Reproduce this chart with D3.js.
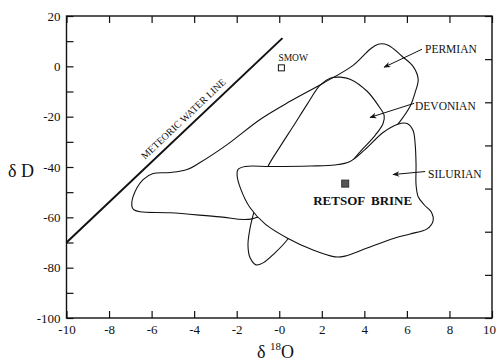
<!DOCTYPE html>
<html>
<head>
<meta charset="utf-8">
<script src="https://cdn.jsdelivr.net/npm/d3@7"></script>
<style>
  body { margin: 0; background: #fff; }
  text { font-family: "Liberation Serif", "DejaVu Serif", serif; fill: #111; }
</style>
</head>
<body>
<script>
var svg_width = 496, svg_height = 362;

// axis ticks
var x_ticks = [-10, -8, -6, -4, -2, 0, 2, 4, 6, 8, 10];
var y_ticks = [-100, -90, -80, -70, -60, -50, -40, -30, -20, -10, 0, 10, 20];
var y_labels = [-100, -80, -60, -40, -20, 0, 20];
var right_ticks = [0, 1, 2, 3, 4, 5, 6, 7];

// fields, as [d18O, dD]
var permian = [
  [-6.92, -55.8], [-6.87, -51.8], [-6.40, -45.0], [-5.93, -42.6], [-5.13, -42.2],
  [-4.33, -41.0], [-3.72, -38.2], [-2.45, -31.1], [-0.90, -21.1], [0.51, -13.9],
  [2.06, -6.7], [3.47, 0.4], [4.27, 6.8], [4.65, 8.8], [5.12, 8.4], [5.77, 4.0],
  [6.29, 0.0], [6.53, -5.1], [6.39, -10.3], [6.15, -15.9], [5.68, -21.9],
  [5.07, -27.9], [4.27, -34.3], [3.23, -39.4], [0.98, -51.0], [-1.28, -60.6],
  [-2.78, -59.8], [-5.13, -58.2], [-6.54, -57.8], [-6.83, -57.0]
];
var devonian = [
  [2.86, -4.3], [3.33, -5.1], [4.13, -9.9], [4.65, -15.5], [4.93, -19.5],
  [4.88, -22.7], [4.50, -27.5], [3.89, -33.1], [3.33, -38.6], [1.45, -55.0],
  [0.37, -69.0], [-0.20, -74.1], [-0.76, -78.1], [-1.09, -78.9], [-1.37, -76.1],
  [-1.47, -71.0], [-1.37, -64.2], [-1.23, -59.1], [-0.81, -47.0], [-0.53, -39.8],
  [0.04, -31.9], [0.65, -23.9], [1.31, -15.1], [1.92, -7.5], [2.39, -4.7]
];
var silurian = [
  [-1.94, -41.0], [-1.61, -39.8], [-0.43, -39.8], [1.45, -39.6], [2.62, -39.2],
  [3.33, -37.8], [4.03, -33.1], [4.88, -26.3], [5.54, -23.1], [6.01, -22.7],
  [6.29, -25.5], [6.39, -31.1], [6.43, -39.0], [6.43, -47.0], [6.53, -51.8],
  [6.81, -55.0], [7.14, -57.8], [7.23, -61.4], [6.95, -64.6], [6.15, -66.6],
  [5.44, -68.2], [4.13, -72.2], [3.09, -75.4], [2.62, -75.7], [1.59, -73.0],
  [0.37, -68.2], [-0.67, -62.6], [-1.37, -56.2], [-1.80, -49.0], [-1.98, -43.4]
];

// meteoric water line dD = 8 d18O + 10
var mwl_x = [-10, 0.15];
var smow = [0.1, -0.6];
var retsof = [3.1, -46.6];

var x = d3.scaleLinear().domain([-10, 10]).range([66.5, 492]);
var y = d3.scaleLinear().domain([-100, 20]).range([318, 16]);
var y2 = d3.scaleLinear().domain([0, 7]).range([318, 16]);

var svg = d3.select("body").append("svg")
  .attr("width", svg_width).attr("height", svg_height);

svg.append("defs").append("marker")
  .attr("id", "head").attr("viewBox", "0 0 10 10")
  .attr("refX", 9).attr("refY", 5)
  .attr("markerWidth", 9).attr("markerHeight", 7)
  .attr("markerUnits", "userSpaceOnUse")
  .attr("orient", "auto")
  .append("path").attr("d", "M0,1 L10,5 L0,9 L3,5 Z").attr("fill", "#111");

var line = d3.line()
  .x(function(d) { return x(d[0]); })
  .y(function(d) { return y(d[1]); })
  .curve(d3.curveCatmullRomClosed.alpha(0.5));

var fields = svg.append("g").attr("stroke", "#111").attr("stroke-width", 1.1);
fields.append("path").datum(permian).attr("d", line).attr("fill", "none");
fields.append("path").datum(devonian).attr("d", line).attr("fill", "none");
fields.append("path").datum(silurian).attr("d", line).attr("fill", "#fff");

// meteoric water line
svg.append("line")
  .attr("x1", x(mwl_x[0])).attr("y1", y(8 * mwl_x[0] + 10))
  .attr("x2", x(mwl_x[1])).attr("y2", y(8 * mwl_x[1] + 10))
  .attr("stroke", "#111").attr("stroke-width", 2);

var ang = Math.atan2(y(8 * 1 + 10) - y(10), x(1) - x(0)) * 180 / Math.PI;
var lx = -4.2;
svg.append("text")
  .attr("transform", "translate(" + x(lx) + "," + y(8 * lx + 10) + ") rotate(" + ang + ")")
  .attr("dy", -6)
  .attr("text-anchor", "middle")
  .style("font-size", "10px")
  .text("METEORIC WATER LINE");

// SMOW
svg.append("rect")
  .attr("x", x(smow[0]) - 3).attr("y", y(smow[1]) - 3)
  .attr("width", 6).attr("height", 6)
  .attr("fill", "#fff").attr("stroke", "#111").attr("stroke-width", 1);
svg.append("text").attr("x", x(smow[0]) - 3).attr("y", y(smow[1]) - 7)
  .style("font-size", "9.5px").text("SMOW");

// Retsof brine
svg.append("rect")
  .attr("x", x(retsof[0]) - 3.5).attr("y", y(retsof[1]) - 3.5)
  .attr("width", 7).attr("height", 7)
  .attr("fill", "#555").attr("stroke", "#333").attr("stroke-width", 1);
svg.append("text").attr("x", x(retsof[0]) - 32).attr("y", y(retsof[1]) + 21)
  .style("font-size", "13px").style("font-weight", "bold")
  .style("word-spacing", "3px")
  .text("RETSOF BRINE");

// field labels with arrows
var notes = [
  { name: "PERMIAN", tail: [6.71, 6.8], head: [4.93, -0.35], tx: 425, ty: 53 },
  { name: "DEVONIAN", tail: [6.34, -14.7], head: [4.27, -20.3], tx: 415, ty: 110 },
  { name: "SILURIAN", tail: [6.86, -41.8], head: [5.35, -43.0], tx: 428, ty: 178 }
];
notes.forEach(function(n) {
  svg.append("line")
    .attr("x1", x(n.tail[0])).attr("y1", y(n.tail[1]))
    .attr("x2", x(n.head[0])).attr("y2", y(n.head[1]))
    .attr("stroke", "#111").attr("stroke-width", 1)
    .attr("marker-end", "url(#head)");
  svg.append("text").attr("x", n.tx).attr("y", n.ty)
    .style("font-size", "11.5px").text(n.name);
});

// axes
function fmt(d) { return d === 0 ? "-0" : String(d); }
var gx = svg.append("g").attr("transform", "translate(0,318)")
  .call(d3.axisBottom(x).tickValues(x_ticks).tickSize(-7).tickPadding(7).tickFormat(fmt));
var gt = svg.append("g").attr("transform", "translate(0,16)")
  .call(d3.axisTop(x).tickValues(x_ticks).tickSize(-7).tickFormat(""));
var gy = svg.append("g").attr("transform", "translate(66.5,0)")
  .call(d3.axisLeft(y).tickValues(y_ticks).tickSize(-7).tickPadding(6)
    .tickFormat(function(d) { return y_labels.indexOf(d) >= 0 ? String(d) : ""; }));
var gr = svg.append("g").attr("transform", "translate(492,0)")
  .call(d3.axisRight(y2).tickValues(right_ticks).tickSize(-7).tickFormat(""));

[gx, gt, gy, gr].forEach(function(g) {
  g.select(".domain").remove();
  g.selectAll(".tick line").attr("stroke", "#111").attr("stroke-width", 1.2);
  g.selectAll(".tick text")
    .style("font-family", "'Liberation Serif', serif")
    .style("font-size", "13px").attr("fill", "#111");
});
// last label sits at the page edge, keep it inside
gx.selectAll(".tick text").filter(function(d) { return d === 10; })
  .attr("text-anchor", "end").attr("x", 3.5);

svg.append("rect")
  .attr("x", 66.5).attr("y", 16)
  .attr("width", 492 - 66.5).attr("height", 318 - 16)
  .attr("fill", "none").attr("stroke", "#111").attr("stroke-width", 1.4);

// axis titles
svg.append("text").attr("x", 8).attr("y", 177)
  .style("font-size", "18px").text("\u03b4 D");

var xt = svg.append("text").attr("x", 257).attr("y", 358).style("font-size", "18px");
xt.append("tspan").text("\u03b4 ");
xt.append("tspan").attr("dy", -8).style("font-size", "11px").text("18");
xt.append("tspan").attr("dy", 8).text("O");
</script>
</body>
</html>
